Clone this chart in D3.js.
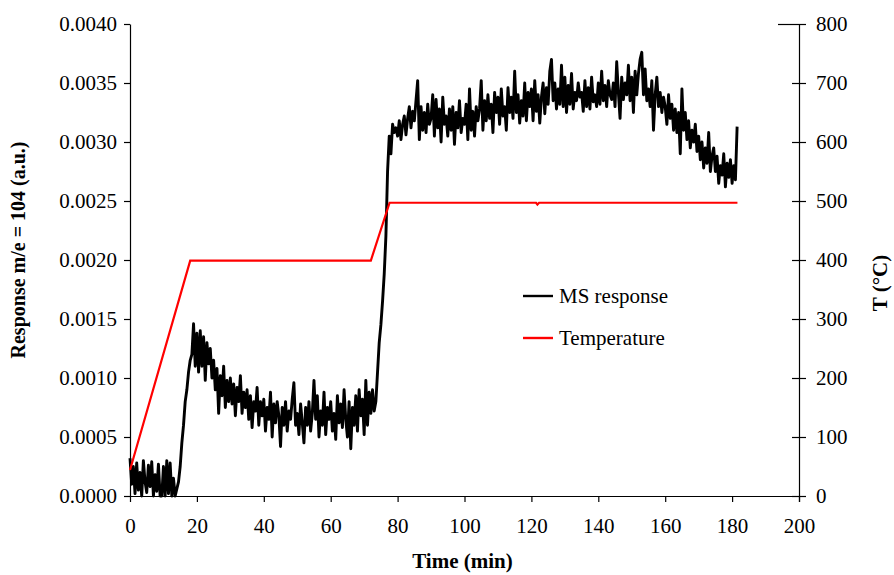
<!DOCTYPE html>
<html>
<head>
<meta charset="utf-8">
<script src="https://cdn.jsdelivr.net/npm/d3@7"></script>
<style>
  body { margin: 0; background: #fff; }
  text { font-family: "Liberation Serif", "Times New Roman", serif; }
</style>
</head>
<body>
<svg class="chart"></svg>
<script>
// MS response sampled every half minute, from t = 0 min
const sampleStep = 0.5;
const msResponse = [
  0.00032, 0.00010, 0.00025, 0.00002, 0.00028, 0.00005, 0.00020, 0.00000, 0.00030, 0.00012,
  0.00003, 0.00026, 0.00008, 0.00029, 0.00000, 0.00018, 0.00004, 0.00027, 0.00000, 0.00000,
  0.00025, 0.00000, 0.00030, 0.00002, 0.00028, 0.00000, 0.00015, 0.00000, 0.00006, 0.00012,
  0.00025, 0.00045, 0.00060, 0.00080, 0.00090, 0.00105, 0.00115, 0.00120, 0.00146, 0.00110,
  0.00138, 0.00105, 0.00140, 0.00110, 0.00135, 0.00098, 0.00130, 0.00112, 0.00125, 0.00100,
  0.00115, 0.00090, 0.00108, 0.00070, 0.00102, 0.00085, 0.00110, 0.00075, 0.00098, 0.00080,
  0.00100, 0.00078, 0.00095, 0.00068, 0.00092, 0.00080, 0.00102, 0.00070, 0.00088, 0.00075,
  0.00090, 0.00065, 0.00085, 0.00058, 0.00080, 0.00072, 0.00092, 0.00060, 0.00080, 0.00068,
  0.00082, 0.00055, 0.00075, 0.00065, 0.00088, 0.00050, 0.00078, 0.00062, 0.00080, 0.00068,
  0.00042, 0.00075, 0.00060, 0.00080, 0.00055, 0.00072, 0.00065, 0.00082, 0.00096, 0.00060,
  0.00070, 0.00052, 0.00078, 0.00062, 0.00045, 0.00075, 0.00060, 0.00080, 0.00055, 0.00070,
  0.00098, 0.00065, 0.00085, 0.00050, 0.00072, 0.00060, 0.00088, 0.00052, 0.00075, 0.00065,
  0.00080, 0.00055, 0.00070, 0.00048, 0.00085, 0.00062, 0.00078, 0.00058, 0.00090, 0.00065,
  0.00050, 0.00080, 0.00040, 0.00075, 0.00060, 0.00085, 0.00055, 0.00090, 0.00068, 0.00082,
  0.00052, 0.00098, 0.00060, 0.00088, 0.00070, 0.00090, 0.00072, 0.00080, 0.00105, 0.00130,
  0.00145, 0.00165, 0.00188, 0.00220, 0.00275, 0.00305, 0.00290, 0.00315, 0.00308, 0.00312,
  0.00305, 0.00318, 0.00302, 0.00315, 0.00322, 0.00306, 0.00320, 0.00330, 0.00312, 0.00326,
  0.00318, 0.00335, 0.00352, 0.00302, 0.00330, 0.00310, 0.00325, 0.00308, 0.00332, 0.00315,
  0.00320, 0.00340, 0.00305, 0.00336, 0.00312, 0.00328, 0.00300, 0.00338, 0.00315, 0.00322,
  0.00305, 0.00328, 0.00310, 0.00330, 0.00298, 0.00325, 0.00312, 0.00335, 0.00308, 0.00320,
  0.00315, 0.00332, 0.00302, 0.00345, 0.00310, 0.00326, 0.00305, 0.00330, 0.00318, 0.00328,
  0.00352, 0.00310, 0.00335, 0.00318, 0.00340, 0.00320, 0.00332, 0.00308, 0.00342, 0.00325,
  0.00338, 0.00315, 0.00345, 0.00322, 0.00330, 0.00310, 0.00346, 0.00325, 0.00338, 0.00320,
  0.00360, 0.00325, 0.00340, 0.00316, 0.00335, 0.00322, 0.00350, 0.00318, 0.00342, 0.00330,
  0.00345, 0.00318, 0.00352, 0.00326, 0.00340, 0.00316, 0.00338, 0.00350, 0.00324, 0.00346,
  0.00332, 0.00360, 0.00370, 0.00335, 0.00350, 0.00328, 0.00345, 0.00332, 0.00365, 0.00330,
  0.00355, 0.00325, 0.00348, 0.00332, 0.00358, 0.00328, 0.00342, 0.00335, 0.00350, 0.00338,
  0.00342, 0.00326, 0.00352, 0.00330, 0.00346, 0.00328, 0.00355, 0.00334, 0.00340, 0.00330,
  0.00350, 0.00332, 0.00360, 0.00335, 0.00348, 0.00330, 0.00352, 0.00340, 0.00336, 0.00350,
  0.00330, 0.00368, 0.00342, 0.00320, 0.00355, 0.00336, 0.00350, 0.00340, 0.00365, 0.00335,
  0.00355, 0.00325, 0.00360, 0.00340, 0.00358, 0.00370, 0.00376, 0.00340, 0.00362, 0.00335,
  0.00345, 0.00330, 0.00352, 0.00310, 0.00340, 0.00355, 0.00330, 0.00342, 0.00325, 0.00338,
  0.00330, 0.00315, 0.00340, 0.00320, 0.00332, 0.00310, 0.00328, 0.00308, 0.00325, 0.00290,
  0.00345, 0.00310, 0.00325, 0.00302, 0.00318, 0.00295, 0.00310, 0.00300, 0.00315, 0.00292,
  0.00305, 0.00285, 0.00300, 0.00278, 0.00295, 0.00282, 0.00308, 0.00275, 0.00288, 0.00295,
  0.00275, 0.00288, 0.00265, 0.00280, 0.00272, 0.00290, 0.00262, 0.00282, 0.00270, 0.00285,
  0.00265, 0.00280, 0.00268, 0.00313
];

// temperature program (min, °C)
const tempTime = [0, 18, 72, 77.6, 121.4, 121.8, 122.3, 181.6];
const tempValue = [44, 399, 399, 497, 497, 494, 497, 497];

const xTicks = [0, 20, 40, 60, 80, 100, 120, 140, 160, 180, 200];
const yLeftTicks = [0, 0.0005, 0.001, 0.0015, 0.002, 0.0025, 0.003, 0.0035, 0.004];
const yRightTicks = [0, 100, 200, 300, 400, 500, 600, 700, 800];
const legendNames = ['MS response', 'Temperature'];
const legendColors = ['#000', '#ff0000'];

const margin = {top: 24, right: 95, bottom: 79, left: 130};
const width = 894 - margin.left - margin.right;
const height = 575 - margin.top - margin.bottom;
const fontSize = 21;

const chart = d3.select('.chart')
  .attr('width', 894)
  .attr('height', 575);

const g = chart.append('g').attr('transform', 'translate(' + margin.left + ',' + margin.top + ')');

const x = d3.scaleLinear().domain([0, 200]).range([0, width]);
const yL = d3.scaleLinear().domain([0, 0.004]).range([height, 0]);
const yR = d3.scaleLinear().domain([0, 800]).range([height, 0]);

// x axis
const xAxis = g.append('g')
  .attr('transform', 'translate(0,' + height + ')')
  .call(d3.axisBottom(x).tickValues(xTicks).tickSize(6).tickSizeOuter(0).tickPadding(16));
xAxis.select('.domain').attr('d', 'M0,0.5H' + (width + 7));

// left axis
g.append('g')
  .call(d3.axisLeft(yL).tickValues(yLeftTicks).tickFormat(d3.format('.4f')).tickSize(6).tickSizeOuter(0).tickPadding(7));

// right axis, ticks crossing the line
const rAxis = g.append('g')
  .attr('transform', 'translate(' + width + ',0)')
  .call(d3.axisRight(yR).tickValues(yRightTicks).tickSize(7).tickSizeOuter(0).tickPadding(10));
rAxis.selectAll('.tick line').attr('x1', (d) => d === 800 ? -21 : -7);
rAxis.select('.domain').attr('d', 'M0.5,0V' + (height + 6));

g.selectAll('.tick text')
  .attr('font-size', fontSize)
  .attr('font-family', '"Liberation Serif", serif')
  .attr('fill', '#000');
g.selectAll('.domain, .tick line').attr('stroke', '#000').attr('stroke-width', 1.2);

// series
const msLine = d3.line()
  .x((d, i) => x(i * sampleStep))
  .y((d) => yL(d));

const tempLine = d3.line()
  .x((d, i) => x(tempTime[i]))
  .y((d) => yR(d));

g.append('path')
  .attr('fill', 'none')
  .attr('stroke', '#000')
  .attr('stroke-width', 2.9)
  .attr('stroke-linejoin', 'round')
  .attr('d', msLine(msResponse));

g.append('path')
  .attr('fill', 'none')
  .attr('stroke', '#ff0000')
  .attr('stroke-width', 2.2)
  .attr('d', tempLine(tempValue));

// legend
const legend = g.append('g').attr('transform', 'translate(393,272)');
legendNames.forEach((name, i) => {
  const row = legend.append('g').attr('transform', 'translate(0,' + (i * 42) + ')');
  row.append('line')
    .attr('x1', 0).attr('x2', 30)
    .attr('stroke', legendColors[i])
    .attr('stroke-width', 2.4);
  row.append('text')
    .attr('x', 36).attr('dy', '0.35em')
    .attr('font-size', fontSize)
    .text(name);
});

// axis titles
chart.append('text')
  .attr('x', margin.left + width / 2 - 2).attr('y', 568)
  .attr('text-anchor', 'middle')
  .attr('font-size', fontSize).attr('font-weight', 'bold')
  .text('Time (min)');

chart.append('text')
  .attr('transform', 'translate(25,250) rotate(-90)')
  .attr('text-anchor', 'middle')
  .attr('font-size', 20).attr('font-weight', 'bold')
  .text('Response m/e = 104 (a.u.)');

chart.append('text')
  .attr('transform', 'translate(887,283) rotate(-90)')
  .attr('text-anchor', 'middle')
  .attr('font-size', fontSize).attr('font-weight', 'bold')
  .text('T (°C)');
</script>
</body>
</html>
